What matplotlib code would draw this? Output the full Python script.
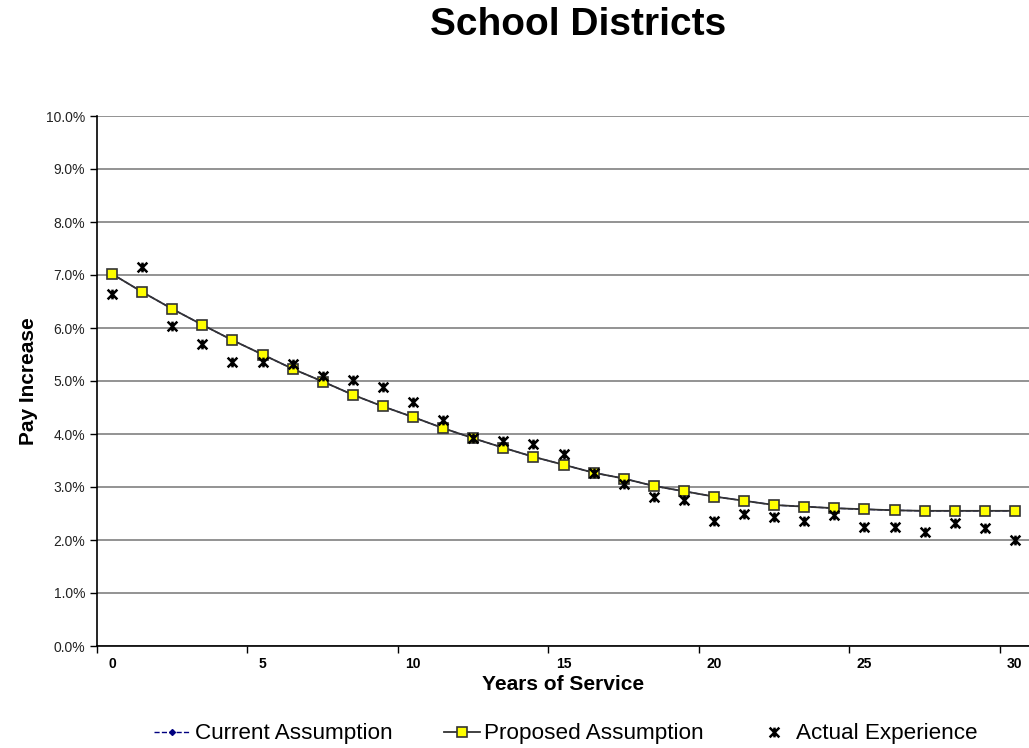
import matplotlib.pyplot as plt
from matplotlib.path import Path
import numpy as np

plt.rcParams['font.family'] = ['Liberation Sans', 'DejaVu Sans']

years = list(range(31))

# pay increase in percent
current = [7.02, 6.68, 6.36, 6.06, 5.77, 5.50, 5.23, 4.99, 4.74, 4.52, 4.32,
           4.11, 3.92, 3.74, 3.57, 3.42, 3.27, 3.16, 3.02, 2.92, 2.82,
           2.74, 2.66, 2.63, 2.60, 2.58, 2.56, 2.55, 2.55, 2.55, 2.55]
proposed = [7.02, 6.68, 6.36, 6.06, 5.77, 5.50, 5.23, 4.99, 4.74, 4.52, 4.32,
            4.11, 3.92, 3.74, 3.57, 3.42, 3.27, 3.16, 3.02, 2.92, 2.82,
            2.74, 2.66, 2.63, 2.60, 2.58, 2.56, 2.55, 2.55, 2.55, 2.55]
actual = [6.65, 7.15, 6.03, 5.69, 5.35, 5.35, 5.32, 5.09, 5.02, 4.89, 4.60,
          4.26, 3.92, 3.87, 3.82, 3.62, 3.26, 3.06, 2.82, 2.75, 2.36,
          2.50, 2.43, 2.36, 2.48, 2.25, 2.24, 2.15, 2.33, 2.23, 2.00]

# x with a vertical bar through it
star = Path([(-1, -1), (1, 1), (-1, 1), (1, -1), (0, -1), (0, 1)],
            [Path.MOVETO, Path.LINETO, Path.MOVETO, Path.LINETO,
             Path.MOVETO, Path.LINETO])

fig = plt.figure(figsize=(10.29, 7.48), dpi=100)
ax = fig.add_axes([97 / 1029, 102 / 748, 933 / 1029, 530 / 748])

ax.plot(years, current, color='#000080', linestyle='--', linewidth=1,
        marker='D', markersize=3, label='Current Assumption', zorder=3)
ax.plot(years, proposed, color='#333333', linewidth=1.3, marker='s',
        markersize=7, markerfacecolor='#ffff00', markeredgecolor='#333333',
        markeredgewidth=1.2, label='Proposed Assumption', zorder=4)
ax.plot(years, actual, linestyle='none', marker=star, markersize=7,
        color='black', markeredgewidth=1.8, label='Actual Experience', zorder=5)

ax.set_xlim(-0.5, 30.5)
ax.set_ylim(0, 10)

# y axis: percent labels every 1%
yt = np.arange(0, 11)
ax.set_yticks(yt)
ax.set_yticklabels([f'{v:.1f}%' for v in yt], fontsize=10, color='#222222')
ax.yaxis.grid(True, color='#808080', linewidth=1.2)
ax.set_axisbelow(True)

# x axis: tick marks between categories, labels on the categories
ax.set_xticks(np.arange(-0.5, 30, 5))
ax.set_xticklabels([])
ax.set_xticks(np.arange(0, 31, 5), minor=True)
ax.set_xticklabels([str(v) for v in range(0, 31, 5)], minor=True,
                   fontsize=10, fontweight='bold')
ax.tick_params(axis='x', which='major', length=5, width=1, direction='out')
ax.tick_params(axis='x', which='minor', length=0, pad=8)
ax.tick_params(axis='y', length=5, width=1, direction='out')

for s in ['top', 'right']:
    ax.spines[s].set_visible(False)
ax.spines['left'].set_linewidth(1.2)
ax.spines['bottom'].set_linewidth(1.2)

ax.set_xlabel('Years of Service', fontsize=15, fontweight='bold', labelpad=3)
ax.set_ylabel('Pay Increase', fontsize=15, fontweight='bold', labelpad=6)

fig.text(578 / 1029, 1 - 25 / 748, 'School Districts', ha='center',
         va='center', fontsize=28, fontweight='bold')

fig.legend(loc='center', bbox_to_anchor=(566 / 1029, 1 - 734 / 748), ncol=3,
           frameon=False, fontsize=16.2, handlelength=1.6, columnspacing=2.3,
           handletextpad=0.2)

fig.savefig('out.png', dpi=100)
